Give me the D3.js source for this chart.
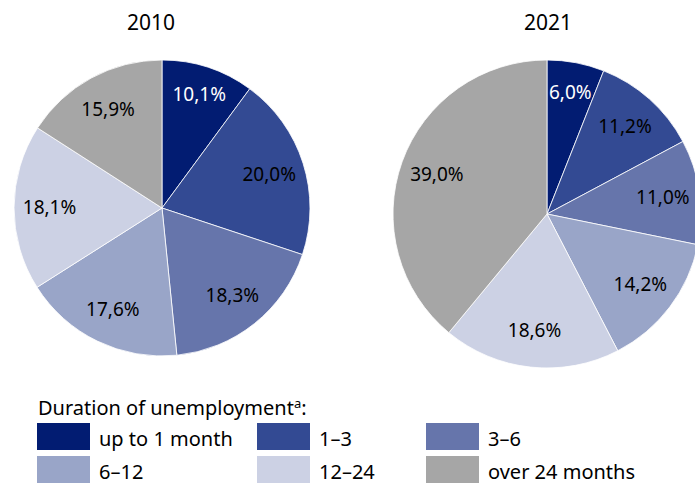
<!DOCTYPE html>
<html>
<head>
<meta charset="utf-8">
<script src="https://cdn.jsdelivr.net/npm/d3@7"></script>
<style>
  body { margin: 0; background: #fff; }
  svg { display: block; font-family: "Noto Sans", "Open Sans", sans-serif; }
</style>
</head>
<body>
<script>
// data
const categories = ["up to 1 month", "1\u20133", "3\u20136", "6\u201312", "12\u201324", "over 24 months"];
const years = ["2010", "2021"];
const values2010 = [10.1, 20.0, 18.3, 17.6, 18.1, 15.9];
const values2021 = [6.0, 11.2, 11.0, 14.2, 18.6, 39.0];
const colors = ["#021c72", "#334a93", "#6675ab", "#99a5c8", "#ccd1e4", "#a6a6a6"];

const width = 695, height = 484;

const svg = d3.select("body").append("svg")
    .attr("width", width)
    .attr("height", height);

const locale = d3.formatLocale({decimal: ",", thousands: ".", grouping: [3], currency: ["", ""]});
const fmt = locale.format(".1f");

const color = d3.scaleOrdinal().domain(categories).range(colors);

const pie = d3.pie().sort(null).value(d => d.value);

// one pie per year
const pies = [
    {year: years[0], values: values2010, cx: 162, cy: 208, r: 148, titleX: 151},
    {year: years[1], values: values2021, cx: 547, cy: 214, r: 154, titleX: 548}
];

pies.forEach(p => {
    const data = categories.map((c, i) => ({cat: c, value: p.values[i]}));
    const arc = d3.arc().innerRadius(0).outerRadius(p.r);
    const labelArc = d3.arc().innerRadius(p.r * 0.76).outerRadius(p.r * 0.76);

    svg.append("text")
        .attr("x", p.titleX)
        .attr("y", 30)
        .attr("text-anchor", "middle")
        .style("font-size", "21px")
        .style("fill", "#000")
        .text(p.year);

    const g = svg.append("g")
        .attr("transform", `translate(${p.cx},${p.cy})`);

    const arcs = pie(data);

    g.selectAll("path")
        .data(arcs)
        .join("path")
        .attr("d", arc)
        .attr("fill", d => color(d.data.cat))
        .attr("stroke", "#fff")
        .attr("stroke-width", 0.8);

    g.selectAll("text")
        .data(arcs)
        .join("text")
        .attr("transform", d => {
            // small slices get pushed outward a bit
            const k = d.data.value < 11 ? 1.06 : 1;
            const [x, y] = labelArc.centroid(d);
            return `translate(${x * k},${y * k})`;
        })
        .attr("text-anchor", "middle")
        .attr("dy", "0.35em")
        .style("font-size", "19px")
        .style("fill", d => d.index === 0 ? "#fff" : "#000")
        .text(d => fmt(d.data.value) + "%");
});

// legend
const legend = svg.append("g");

const header = legend.append("text")
    .attr("x", 38)
    .attr("y", 415)
    .style("font-size", "20px")
    .style("fill", "#000");
header.append("tspan").text("Duration of unemployment");
header.append("tspan").attr("dy", -7).style("font-size", "13px").text("a");
header.append("tspan").attr("dy", 7).text(":");

const colX = [37, 257, 426];
const rowY = [423, 456];

const item = legend.selectAll("g.item")
    .data(categories)
    .join("g")
    .attr("class", "item")
    .attr("transform", (d, i) => `translate(${colX[i % 3]},${rowY[Math.floor(i / 3)]})`);

item.append("rect")
    .attr("width", 53)
    .attr("height", 27)
    .attr("fill", d => color(d));

item.append("text")
    .attr("x", 62)
    .attr("y", 23)
    .style("font-size", "20px")
    .style("fill", "#000")
    .text(d => d);
</script>
</body>
</html>
